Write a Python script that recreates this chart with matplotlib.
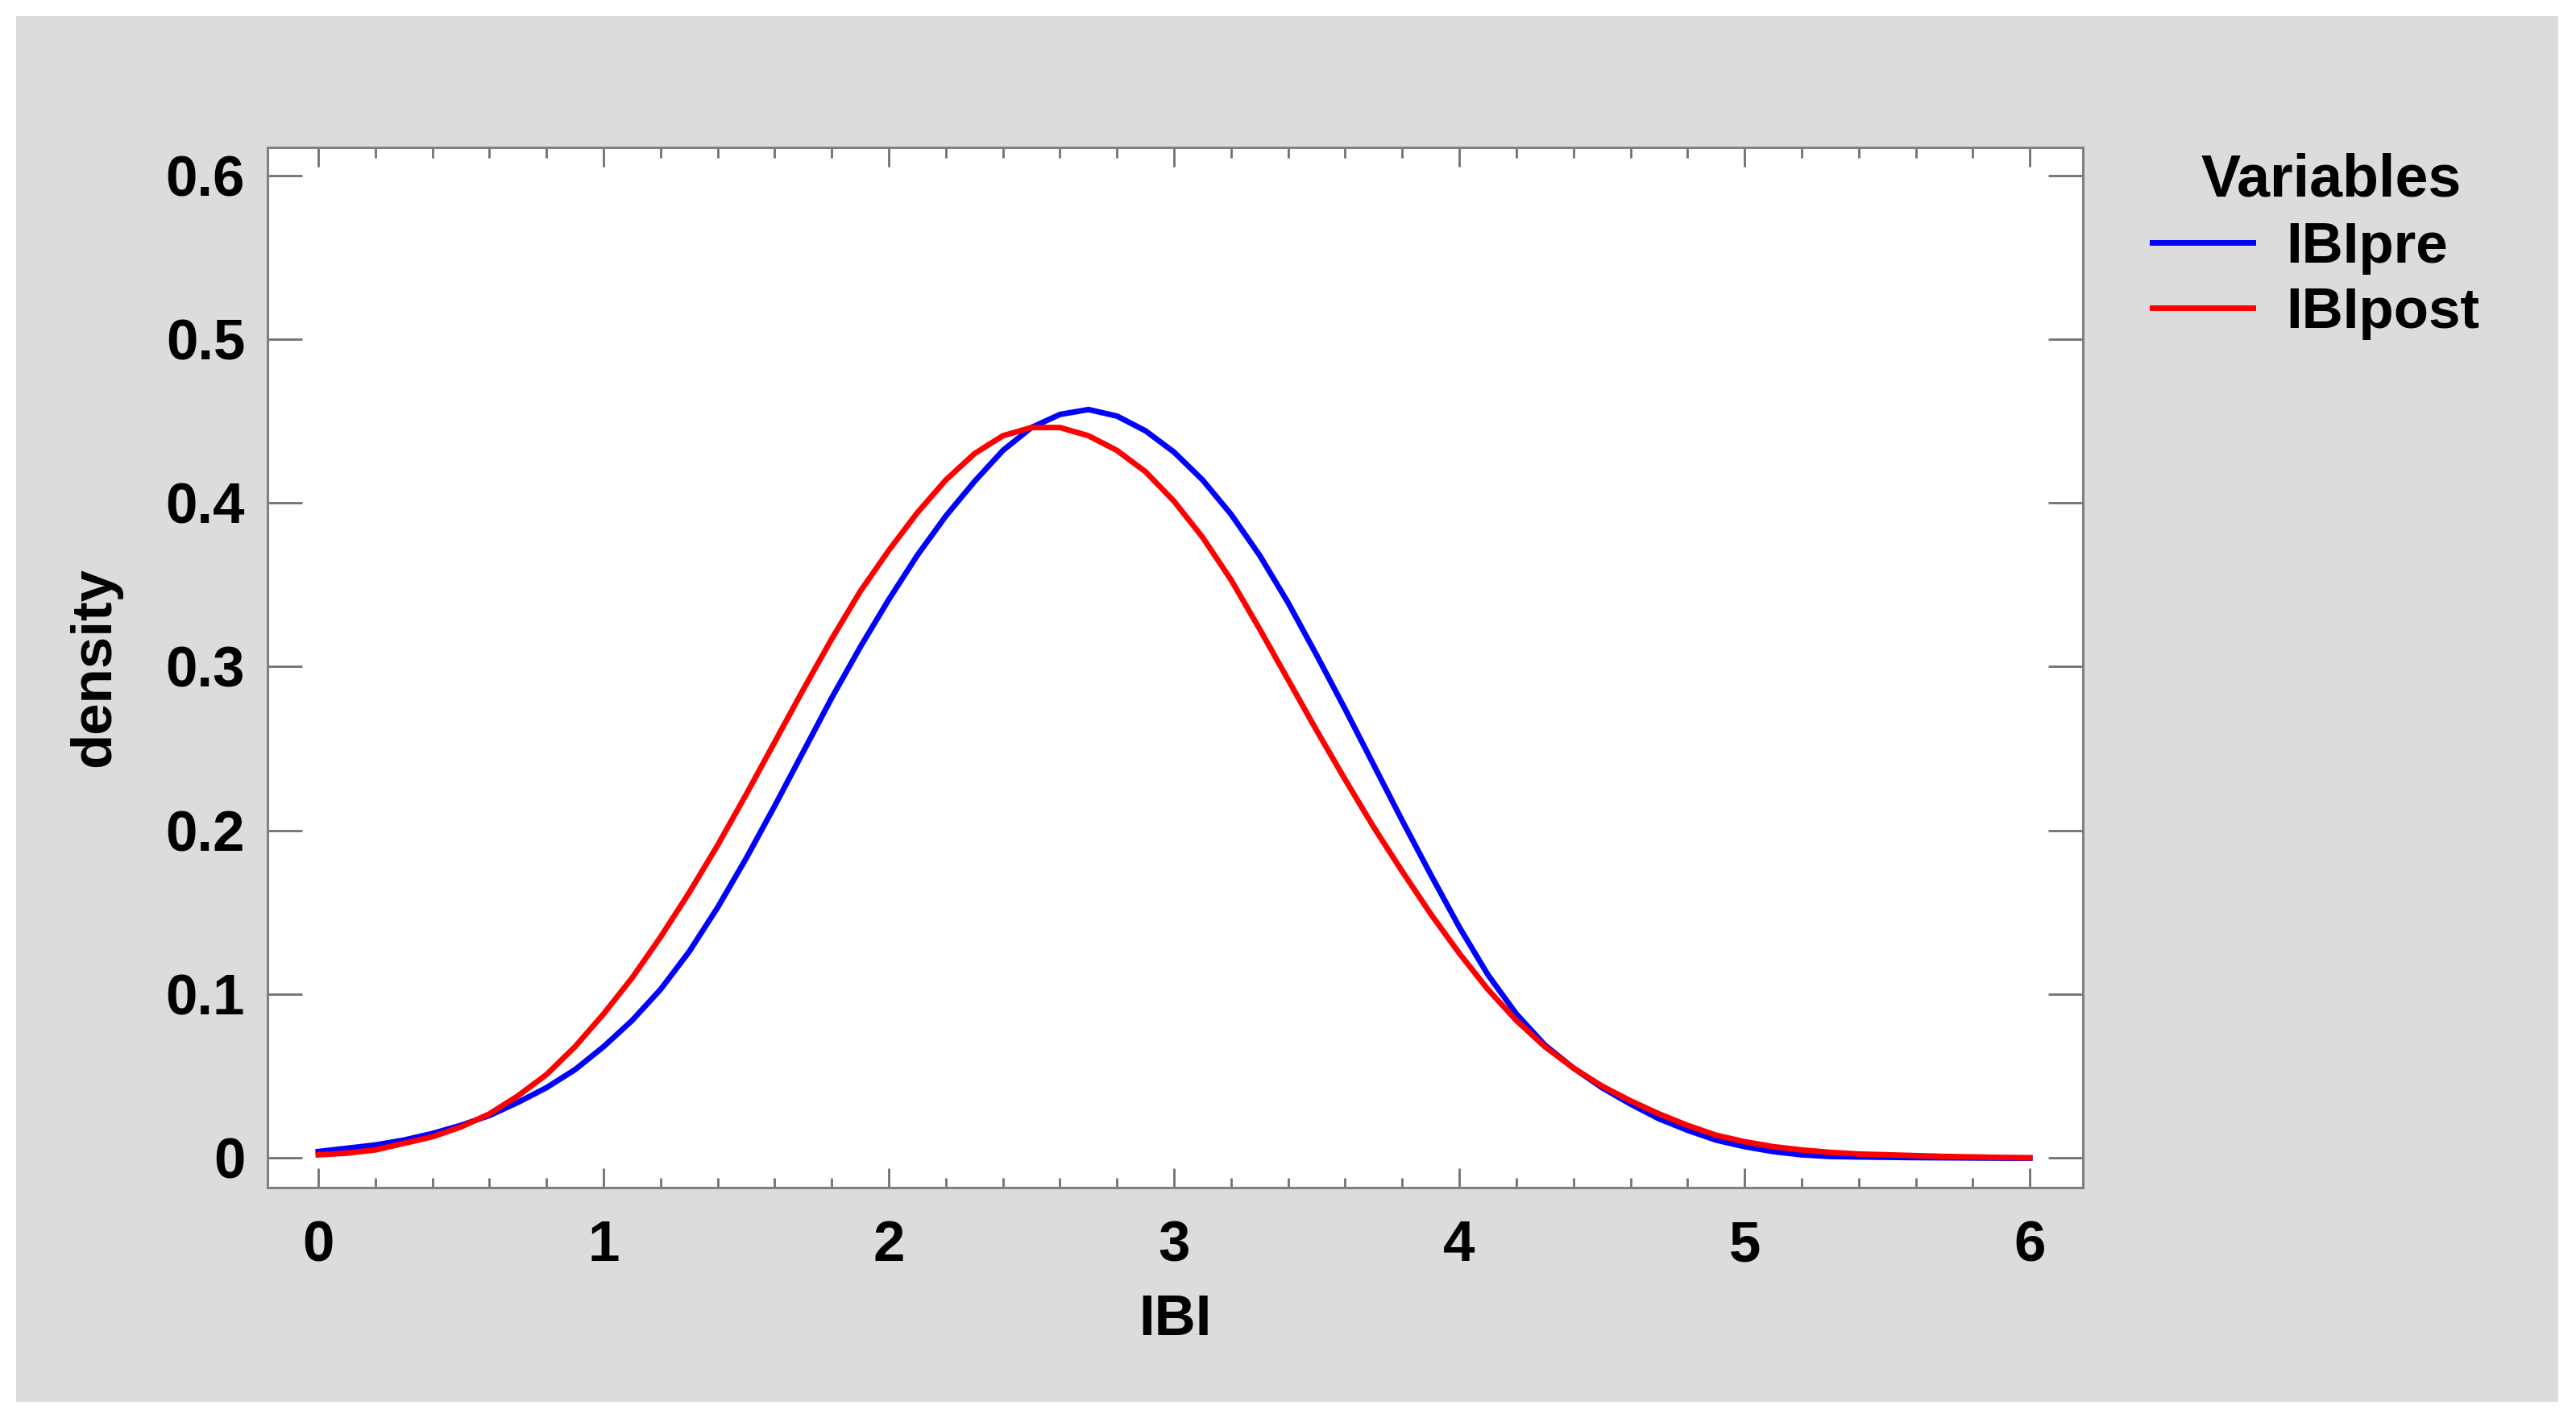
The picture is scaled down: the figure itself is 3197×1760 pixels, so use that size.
import matplotlib
matplotlib.use("Agg")
import matplotlib.pyplot as plt
from matplotlib.patches import Rectangle
from matplotlib.ticker import MultipleLocator

plt.rcParams['font.family'] = ['Liberation Sans', 'DejaVu Sans']
plt.rcParams['font.weight'] = 'bold'

# ---- data ----
ibi = [0.0, 0.1, 0.2, 0.3, 0.4, 0.5, 0.6, 0.7, 0.8, 0.9,
       1.0, 1.1, 1.2, 1.3, 1.4, 1.5, 1.6, 1.7, 1.8, 1.9,
       2.0, 2.1, 2.2, 2.3, 2.4, 2.5, 2.6, 2.7, 2.8, 2.9,
       3.0, 3.1, 3.2, 3.3, 3.4, 3.5, 3.6, 3.7, 3.8, 3.9,
       4.0, 4.1, 4.2, 4.3, 4.4, 4.5, 4.6, 4.7, 4.8, 4.9,
       5.0, 5.1, 5.2, 5.3, 5.4, 5.5, 5.6, 5.7, 5.8, 5.9, 6.0]

ibi_pre = [0.004, 0.006, 0.008, 0.011, 0.015, 0.020, 0.026, 0.034, 0.043, 0.054,
           0.068, 0.084, 0.103, 0.126, 0.153, 0.183, 0.215, 0.248, 0.281, 0.312,
           0.341, 0.368, 0.392, 0.413, 0.432, 0.446, 0.454, 0.457, 0.453, 0.444,
           0.431, 0.414, 0.393, 0.368, 0.339, 0.307, 0.274, 0.240, 0.206, 0.173,
           0.141, 0.112, 0.088, 0.069, 0.055, 0.043, 0.033, 0.024, 0.017, 0.011,
           0.007, 0.004, 0.002, 0.001, 0.0007, 0.0005, 0.0003, 0.0002, 0.0001, 0.0, 0.0]

ibi_post = [0.002, 0.003, 0.005, 0.009, 0.013, 0.019, 0.027, 0.038, 0.051, 0.068,
            0.088, 0.110, 0.135, 0.162, 0.191, 0.222, 0.254, 0.286, 0.317, 0.346,
            0.371, 0.394, 0.414, 0.430, 0.441, 0.446, 0.446, 0.441, 0.432, 0.419,
            0.401, 0.379, 0.353, 0.323, 0.292, 0.261, 0.231, 0.202, 0.175, 0.149,
            0.125, 0.103, 0.084, 0.068, 0.055, 0.044, 0.035, 0.027, 0.020, 0.014,
            0.010, 0.007, 0.005, 0.0035, 0.0025, 0.002, 0.0015, 0.001, 0.0007, 0.0004, 0.0002]

series_names = ['IBIpre', 'IBIpost']
series_colors = ['#0000ff', '#ff0000']
legend_title = 'Variables'
x_ticks = [0, 1, 2, 3, 4, 5, 6]
y_ticks = [0, 0.1, 0.2, 0.3, 0.4, 0.5, 0.6]
y_ticklabels = ['0', '0.1', '0.2', '0.3', '0.4', '0.5', '0.6']

W, H = 3197, 1760
DPI = 200
fig = plt.figure(figsize=(W / DPI, H / DPI), dpi=DPI, facecolor='white')

# gray panel background
fig.add_artist(Rectangle((20 / W, 1 - 1740 / H), (3175 - 20) / W, (1740 - 20) / H,
                         transform=fig.transFigure, facecolor='#dcdcdc',
                         edgecolor='none', zorder=-10))

L, R, T, B = 332, 2585, 183, 1474
ax = fig.add_axes([L / W, 1 - B / H, (R - L) / W, (B - T) / H])
ax.set_facecolor('white')

for vals, name, col in zip([ibi_pre, ibi_post], series_names, series_colors):
    ax.plot(ibi, vals, color=col, lw=2.5, label=name, solid_joinstyle='round')

ax.set_xlim(-0.178, 6.186)
ax.set_ylim(-0.018, 0.617)

ax.set_xticks(x_ticks)
ax.set_xticklabels([str(t) for t in x_ticks])
ax.xaxis.set_minor_locator(MultipleLocator(0.2))
ax.set_yticks(y_ticks)
ax.set_yticklabels(y_ticklabels)

spine_col = '#808080'
for s in ax.spines.values():
    s.set_color(spine_col)
    s.set_linewidth(1.1)

FS = 25.5
ax.tick_params(axis='x', which='major', direction='in', top=True, bottom=True,
               length=8.6, width=1.0, color='#707070', labelsize=FS, pad=14.5)
ax.tick_params(axis='x', which='minor', direction='in', top=True, bottom=True,
               length=4.5, width=1.0, color='#707070')
ax.tick_params(axis='y', which='major', direction='in', left=True, right=True,
               length=15.5, width=1.0, color='#707070', labelsize=FS, pad=10)
for lab in ax.get_xticklabels() + ax.get_yticklabels():
    lab.set_fontweight('bold')

# axis titles
fig.text(1458 / W, 1 - 1657 / H, 'IBI', ha='center', va='baseline',
         fontsize=FS, fontweight='bold')
fig.text(118 / W, 1 - 828 / H, 'density', ha='center', va='center',
         rotation=90, fontsize=FS, fontweight='bold')

# legend (title space kept, visible title drawn separately to centre it like the reference)
leg = fig.legend(loc='upper left', bbox_to_anchor=(2671 / W, 1 - 190 / H),
                 frameon=False, title=legend_title, fontsize=FS,
                 title_fontproperties={'size': 26.5, 'weight': 'bold'},
                 handlelength=1.77, handletextpad=0.58, labelspacing=0.22,
                 borderpad=0, borderaxespad=0)
leg.get_title().set_alpha(0)
for t in leg.get_texts():
    t.set_fontweight('bold')
fig.text(2893 / W, 1 - 244 / H, legend_title, ha='center', va='baseline',
         fontsize=26.5, fontweight='bold')

fig.savefig('out.png', dpi=DPI, facecolor='white')
